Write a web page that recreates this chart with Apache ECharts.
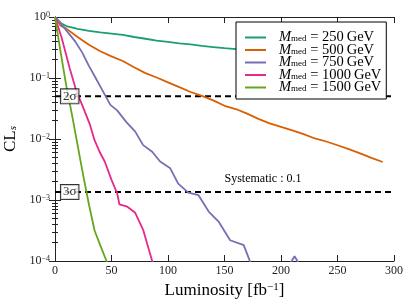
<!DOCTYPE html>
<html>
<head>
<meta charset="utf-8">
<script src="https://cdn.jsdelivr.net/npm/echarts@6/dist/echarts.min.js"></script>
<style>html,body{margin:0;padding:0;background:#fff;}#c{width:415px;height:306px;}</style>
</head>
<body>
<div id="c"></div>
<script>
// ---- data ----
const masses = ['250', '500', '750', '1000', '1500'];
const colors = ['#1b9e77', '#d95f02', '#7570b3', '#e7298a', '#66a61e'];

const x250 = [0, 5, 10, 20, 30, 40, 50, 60, 70, 80, 90, 100, 110, 120, 130, 140, 150, 160, 170, 180, 190, 200, 210, 220, 230, 240, 250, 260, 270, 280];
const y250 = [1, 0.8, 0.71, 0.64, 0.59, 0.56, 0.535, 0.51, 0.47, 0.44, 0.41, 0.39, 0.37, 0.355, 0.337, 0.322, 0.308, 0.297, 0.285, 0.275, 0.265, 0.255, 0.246, 0.238, 0.23, 0.222, 0.215, 0.208, 0.2, 0.194];

const x500 = [0, 5, 10, 20, 30, 40, 50, 60, 70, 80, 90, 100, 110, 120, 130, 140, 150, 160, 170, 180, 190, 200, 210, 220, 230, 240, 250, 260, 270, 280, 290];
const y500 = [1, 0.72, 0.645, 0.47, 0.35, 0.275, 0.226, 0.19, 0.15, 0.12, 0.102, 0.085, 0.071, 0.059, 0.051, 0.043, 0.035, 0.031, 0.026, 0.0214, 0.018, 0.0158, 0.0138, 0.012, 0.0102, 0.0091, 0.0079, 0.0068, 0.0058, 0.0049, 0.0042];

const x750 = [0, 5, 10, 18, 24, 30, 36, 41, 49, 55, 63, 71, 78, 86, 93, 102, 109, 118, 127, 136, 145, 155, 167, 176, 185, 194, 203, 212, 221, 230, 240];
const y750 = [1, 0.794, 0.603, 0.394, 0.263, 0.158, 0.1, 0.0676, 0.0363, 0.0295, 0.0191, 0.0132, 0.00794, 0.00617, 0.00427, 0.00331, 0.00186, 0.00132, 0.0012, 0.000646, 0.000437, 0.000219, 0.000182, 0.0000676, 0.0000447, 0.0000398, 0.0000631, 0.00012, 0.0000631, 0.0000316, 0.0000251];

const x1000 = [0, 6, 13, 19, 24, 31, 35, 40, 44, 50, 55, 57, 64, 71, 78, 86, 93];
const y1000 = [1, 0.447, 0.145, 0.0603, 0.0363, 0.017, 0.00955, 0.00589, 0.00427, 0.00214, 0.00129, 0.000851, 0.000776, 0.000617, 0.000324, 0.0001, 0.0000251];

const x1500 = [0, 5, 10, 15, 20, 25, 30, 35, 40, 46, 52];
const y1500 = [1, 0.263, 0.0741, 0.0251, 0.00794, 0.00251, 0.000851, 0.000316, 0.000182, 0.0000955, 0.0000501];

const xTicks = [0, 50, 100, 150, 200, 250, 300];
const sigmaLevels = [0.05, 0.00135];
const sigmaLabels = ['2σ', '3σ'];
const sigmaLabelX = 13;
const systematicText = 'Systematic : 0.1';

// ---- chart ----
const FONT = 'Liberation Serif';
const xs = [x250, x500, x750, x1000, x1500];
const ys = [y250, y500, y750, y1000, y1500];

const chart = echarts.init(document.getElementById('c'), null, {renderer: 'canvas'});

function pairs(x, y) { return x.map((v, i) => [v, y[i]]); }
function expLabel(v) {
  const e = Math.round(Math.log10(v));
  return '10{sup|' + (e < 0 ? '\u2212' + (-e) : e) + '}';
}

const axisLine = {show: true, lineStyle: {color: '#222', width: 1}};
const series = masses.map((m, i) => ({
  name: m,
  type: 'line',
  data: pairs(xs[i], ys[i]),
  symbol: 'none',
  clip: true,
  lineStyle: {color: colors[i], width: 1.8},
  itemStyle: {color: colors[i]},
  z: 3
}));

sigmaLevels.forEach((v, i) => {
  series.push({
    name: 'sigma' + i,
    type: 'line',
    data: [[xTicks[0], v], [xTicks[xTicks.length - 1], v]],
    symbol: 'none',
    lineStyle: {color: '#000', type: [6, 4], width: 2},
    itemStyle: {color: '#000'},
    silent: true,
    z: 2
  });
});

series.push({
  name: 'sigmaLabels',
  type: 'scatter',
  data: sigmaLevels.map((v, i) => ({value: [sigmaLabelX, v], label: {formatter: sigmaLabels[i]}})),
  symbolSize: 1,
  itemStyle: {color: 'rgba(0,0,0,0)'},
  label: {
    show: true,
    position: 'inside',
    fontFamily: FONT,
    fontSize: 13,
    color: '#000',
    backgroundColor: '#fff',
    borderColor: '#000',
    borderWidth: 1,
    padding: [1, 2, 0, 2]
  },
  labelLayout: {hideOverlap: false},
  silent: true,
  z: 5
});

chart.setOption({
  animation: false,
  backgroundColor: '#fff',
  grid: {left: 55, right: 21, top: 17, bottom: 45, containLabel: false, outerBoundsMode: 'none'},
  legend: {
    data: masses,
    orient: 'vertical',
    left: 236,
    top: 22,
    backgroundColor: '#fff',
    borderColor: '#000',
    borderWidth: 1,
    borderRadius: 0,
    padding: [8, 5, 4, 9],
    itemWidth: 21,
    itemHeight: 10,
    itemGap: -2.5,
    icon: 'path://M0,4 L21,4 L21,6 L0,6 Z',
    formatter: name => '{i|M}{sub|med}{t| = ' + name + '\u2009GeV}',
    textStyle: {
      fontFamily: FONT,
      fontSize: 14.5,
      lineHeight: 12,
      color: '#000',
      padding: [0, 0, 0, 8],
      rich: {
        i: {fontFamily: FONT, fontStyle: 'italic', fontSize: 14.5, lineHeight: 12},
        sub: {fontFamily: FONT, fontSize: 9, lineHeight: 7, verticalAlign: 'bottom'},
        t: {fontFamily: FONT, fontSize: 14.5, lineHeight: 12}
      }
    },
    z: 20
  },
  xAxis: [{
    type: 'value', min: 0, max: 300, interval: 50,
    axisLine: axisLine,
    axisTick: {show: true, inside: true, length: 6, lineStyle: {color: '#222'}},
    axisLabel: {fontFamily: FONT, fontSize: 12, color: '#222', margin: 4},
    splitLine: {show: false},
    name: 'Luminosity [fb{sup|\u22121}]',
    nameLocation: 'middle',
    nameGap: 14,
    nameTextStyle: {
      fontFamily: FONT, fontSize: 17, color: '#000', verticalAlign: 'top',
      rich: {sup: {fontFamily: FONT, fontSize: 11, verticalAlign: 'top', lineHeight: 12}}
    }
  }, {
    type: 'value', min: 0, max: 300, interval: 50, position: 'top',
    axisLine: axisLine,
    axisTick: {show: true, inside: true, length: 6, lineStyle: {color: '#222'}},
    axisLabel: {show: false},
    splitLine: {show: false}
  }],
  yAxis: [{
    type: 'log', logBase: 10, min: 1e-4, max: 1,
    axisLine: axisLine,
    axisTick: {show: true, inside: true, length: 6, lineStyle: {color: '#222'}},
    minorTick: {show: true, splitNumber: 9, length: 3, lineStyle: {color: '#222'}},
    axisLabel: {
      fontFamily: FONT, fontSize: 12, color: '#222', margin: 5,
      formatter: expLabel,
      rich: {sup: {fontFamily: FONT, fontSize: 8, verticalAlign: 'top', lineHeight: 8}}
    },
    splitLine: {show: false},
    minorSplitLine: {show: false},
    name: 'CL{s|s}',
    nameLocation: 'middle',
    nameGap: 28,
    nameTextStyle: {
      fontFamily: FONT, fontSize: 17, color: '#000',
      rich: {s: {fontFamily: FONT, fontStyle: 'italic', fontSize: 11, verticalAlign: 'bottom', lineHeight: 9}}
    }
  }, {
    type: 'log', logBase: 10, min: 1e-4, max: 1, position: 'right',
    axisLine: axisLine,
    axisTick: {show: true, inside: true, length: 6, lineStyle: {color: '#222'}},
    minorTick: {show: true, splitNumber: 9, length: 3, lineStyle: {color: '#222'}},
    axisLabel: {show: false},
    splitLine: {show: false}
  }],
  graphic: [{
    type: 'text', x: 263, y: 179,
    style: {text: systematicText, fontFamily: FONT, fontSize: 12, fill: '#000', align: 'center', verticalAlign: 'middle'},
    z: 10
  }],
  series: series
});
</script>
</body>
</html>
